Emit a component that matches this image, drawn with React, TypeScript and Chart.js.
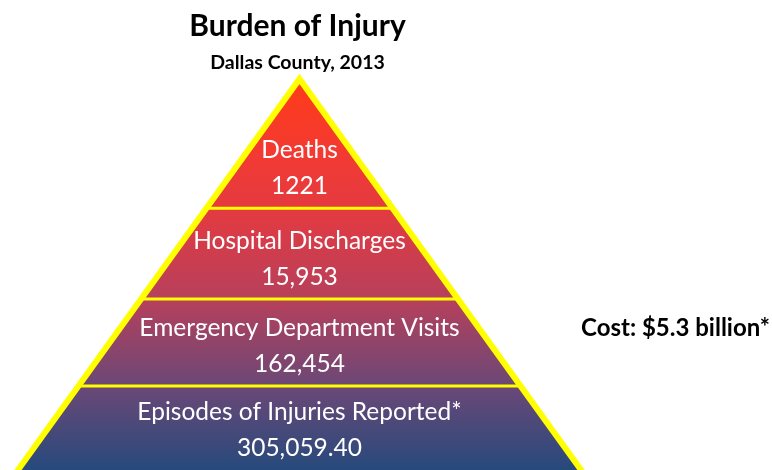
import React, { useEffect, useRef } from "react";
import { Chart, registerables } from "chart.js";

Chart.register(...registerables);

// ---- data ----
const titleText = "Burden of Injury";
const subtitleText = "Dallas County, 2013";
const costText = "Cost: $5.3 billion*";
const tierNames = [
  "Deaths",
  "Hospital Discharges",
  "Emergency Department Visits",
  "Episodes of Injuries Reported*",
];
const tierValues = ["1221", "15,953", "162,454", "305,059.40"];
// pyramid height (% of full height, 0 = base, 100 = apex) at the bottom of each tier
const tierBottoms = [67.3, 44.3, 22.3, 0];
const apexHeight = 100;
const baseHalfWidth = 1;

const FONT = "Lato, 'Open Sans', sans-serif";

export default function App() {
  const canvasRef = useRef<HTMLCanvasElement | null>(null);

  useEffect(() => {
    let chart: Chart | null = null;
    let cancelled = false;

    const halfWidthAt = (h: number) => baseHalfWidth * (1 - h / apexHeight);

    const labelsPlugin = {
      id: "pyramidLabels",
      afterDatasetsDraw(c: any) {
        const { ctx, scales, chartArea, width } = c;
        const xs = scales.x;
        const ys = scales.y;
        const cx = xs.getPixelForValue(0);
        ctx.save();
        ctx.textAlign = "center";
        ctx.textBaseline = "middle";
        // titles
        ctx.fillStyle = "#000";
        ctx.font = `bold 30px ${FONT}`;
        ctx.fillText(titleText, cx - 2, 26);
        ctx.font = `bold 19.5px ${FONT}`;
        ctx.fillText(subtitleText, cx - 2, 63);
        // tier labels
        ctx.fillStyle = "#ffffff";
        ctx.font = `24.5px ${FONT}`;
        let edNameY = 0;
        tierNames.forEach((name, i) => {
          const bottom = Math.min(ys.getPixelForValue(tierBottoms[i]), chartArea.bottom);
          ctx.fillText(name, cx, bottom - 58);
          ctx.fillText(tierValues[i], cx, bottom - 22);
          if (i === 2) edNameY = bottom - 58;
        });
        // cost
        ctx.fillStyle = "#000";
        ctx.font = `bold 24px ${FONT}`;
        ctx.textAlign = "right";
        ctx.fillText(costText, width - 2, edNameY);
        ctx.restore();
      },
    };

    const make = () => {
      if (cancelled || !canvasRef.current) return;
      const triangle = {
        data: [
          { x: -baseHalfWidth, y: 0 },
          { x: 0, y: apexHeight },
          { x: baseHalfWidth, y: 0 },
        ],
        borderColor: "#ffff00",
        borderWidth: 6,
        borderJoinStyle: "miter" as const,
        pointRadius: 0,
        tension: 0,
        fill: "origin",
        clip: false as any,
        order: 5,
        backgroundColor: (context: any) => {
          const ch = context.chart;
          const { ctx, chartArea, scales } = ch;
          if (!chartArea || !scales.y) return "#c03a50";
          const y0 = scales.y.getPixelForValue(apexHeight);
          const y1 = scales.y.getPixelForValue(0);
          const g = ctx.createLinearGradient(0, y0, 0, y1);
          g.addColorStop(0, "#ff3b18");
          g.addColorStop(0.2, "#f23a34");
          g.addColorStop(0.33, "#e43a40");
          g.addColorStop(0.56, "#b6405c");
          g.addColorStop(0.78, "#6a4877");
          g.addColorStop(1, "#234a7c");
          return g;
        },
      };
      const dividers = tierBottoms
        .filter((h) => h > 0)
        .map((h) => ({
          data: [
            { x: -halfWidthAt(h), y: h },
            { x: halfWidthAt(h), y: h },
          ],
          borderColor: "#ffff00",
          borderWidth: 3,
          pointRadius: 0,
          fill: false,
          order: 1,
        }));

      chart = new Chart(canvasRef.current, {
        type: "line",
        data: { datasets: [...dividers, triangle] as any },
        options: {
          animation: false,
          responsive: true,
          maintainAspectRatio: false,
          layout: { padding: { top: 70, right: 173, left: 0, bottom: 0 } },
          plugins: {
            legend: { display: false },
            tooltip: { enabled: false },
            title: { display: false },
          },
          scales: {
            x: { type: "linear", display: false, min: -1.053, max: 1.053 },
            y: { type: "linear", display: false, min: 1.01, max: 102.28 },
          },
        },
        plugins: [labelsPlugin],
      });
    };

    const fontsApi = (document as any).fonts;
    if (fontsApi && fontsApi.load) {
      Promise.all([
        fontsApi.load(`22px Lato`),
        fontsApi.load(`bold 22px Lato`),
      ])
        .catch(() => {})
        .then(make);
    } else {
      make();
    }

    return () => {
      cancelled = true;
      if (chart) chart.destroy();
    };
  }, []);

  return (
    <div style={{ position: "absolute", left: 0, top: 0, width: 772, height: 470, background: "#fff" }}>
      <canvas ref={canvasRef} style={{ display: "block" }} />
    </div>
  );
}
